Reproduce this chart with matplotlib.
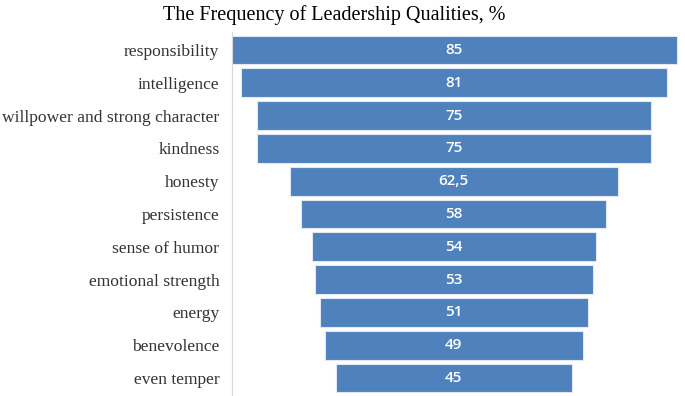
import numpy as np
import matplotlib.pyplot as plt

qualities = ['responsibility', 'intelligence', 'willpower and strong character',
             'kindness', 'honesty', 'persistence', 'sense of humor',
             'emotional strength', 'energy', 'benevolence', 'even temper']
values = [85, 81, 75, 75, 62.5, 58, 54, 53, 51, 49, 45]
value_labels = ['85', '81', '75', '75', '62,5', '58', '54', '53', '51', '49', '45']

fig = plt.figure(figsize=(6.85, 3.96), dpi=100)
ax = fig.add_axes([232 / 685, 0, 453 / 685, 364 / 396])

y = np.arange(len(qualities))
v = np.array(values)
ax.barh(y, v, left=-v / 2, height=0.88, color='#4f81bd',
        edgecolor='#dfe8f3', linewidth=0.8)

for yi, lab in zip(y, value_labels):
    ax.text(0, yi, lab, ha='center', va='center', color='white',
            fontsize=11, family='Open Sans', fontweight='semibold')

ax.set_xlim(-42.2, 44)
ax.set_ylim(10.55, -0.55)
ax.set_yticks(y)
ax.set_yticklabels(qualities, family='Liberation Serif', fontsize=12.6,
                   color='#333333')
ax.tick_params(axis='y', length=0, pad=9)
ax.set_xticks([])
for side in ['top', 'right', 'bottom']:
    ax.spines[side].set_visible(False)
ax.spines['left'].set_color('#d9d9d9')
ax.spines['left'].set_linewidth(0.8)

fig.text(334 / 685, 1 - 15 / 396, 'The Frequency of Leadership Qualities, %',
         ha='center', va='center', family='Liberation Serif', fontsize=14.5)

fig.savefig('out.png', dpi=100)
